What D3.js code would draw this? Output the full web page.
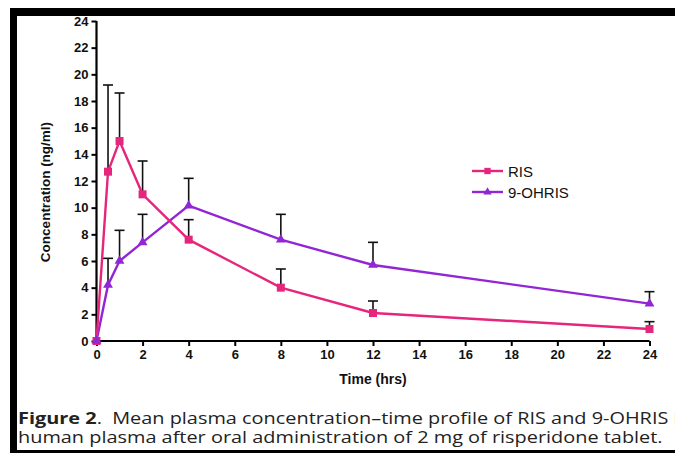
<!DOCTYPE html>
<html><head><meta charset="utf-8">
<script src="https://cdn.jsdelivr.net/npm/d3@7"></script>
<style>body{margin:0;background:#fff;} svg{display:block;}</style>
</head><body>
<script>
const times = [0, 0.5, 1, 2, 4, 8, 12, 24];
const risMean = [0, 12.7, 15.0, 11.0, 7.6, 4.0, 2.1, 0.9];
const risUpper = [0, 19.2, 18.6, 13.5, 9.1, 5.4, 3.0, 1.45];
const ohMean = [0, 4.2, 6.0, 7.4, 10.15, 7.6, 5.7, 2.8];
const ohUpper = [0, 6.2, 8.3, 9.5, 12.2, 9.5, 7.4, 3.7];
const xTicks = [0,2,4,6,8,10,12,14,16,18,20,22,24];
const yTicks = [0,2,4,6,8,10,12,14,16,18,20,22,24];
const seriesNames = ["RIS", "9-OHRIS"];
const colors = ["#e5267c", "#9226d4"];

const W = 675, H = 453;
const svg = d3.select("body").append("svg").attr("width", W).attr("height", H);
svg.append("rect").attr("width", W).attr("height", H).attr("fill", "#fff");

const x = d3.scaleLinear().domain([0, 24]).range([96.5, 649.5]);
const y = d3.scaleLinear().domain([0, 24]).range([341, 21]);

const font = "Liberation Sans, Arial, sans-serif";
const xAxis = svg.append("g").attr("transform", `translate(0,${y(0)})`)
  .call(d3.axisBottom(x).tickValues(xTicks).tickSize(5).tickPadding(4).tickFormat(d3.format("d")));
const yAxis = svg.append("g").attr("transform", `translate(${x(0)},0)`)
  .call(d3.axisLeft(y).tickValues(yTicks).tickSize(5).tickPadding(3).tickFormat(d3.format("d")));
[xAxis, yAxis].forEach(g => {
  g.select(".domain").attr("stroke", "#000").attr("stroke-width", 2.2);
  g.selectAll(".tick line").attr("stroke", "#000").attr("stroke-width", 2);
  g.selectAll(".tick text").attr("fill", "#111").attr("font-family", font)
    .attr("font-weight", "bold").attr("font-size", 13);
});
xAxis.select(".domain").attr("d", `M${x(0)},0H${x(24)}`);
yAxis.select(".domain").attr("d", `M0,${y(0)}V${y(24)}`);

svg.append("text").attr("x", 373).attr("y", 384).attr("text-anchor", "middle")
  .attr("font-family", font).attr("font-weight", "bold").attr("font-size", 14).attr("fill", "#111")
  .text("Time (hrs)");
svg.append("text").attr("transform", `translate(50,${192}) rotate(-90)`).attr("text-anchor", "middle")
  .attr("font-family", font).attr("font-weight", "bold").attr("font-size", 13.5).attr("fill", "#111")
  .text("Concentration (ng/ml)");

const data = [
  times.map((t, i) => ({t, m: risMean[i], u: risUpper[i]})),
  times.map((t, i) => ({t, m: ohMean[i], u: ohUpper[i]}))
];

data.forEach(ser => {
  const g = svg.append("g");
  ser.filter(d => d.u > d.m).forEach(d => {
    g.append("line").attr("x1", x(d.t)).attr("x2", x(d.t)).attr("y1", y(d.m)).attr("y2", y(d.u))
      .attr("stroke", "#111").attr("stroke-width", 1.6);
    g.append("line").attr("x1", x(d.t) - 5).attr("x2", x(d.t) + 5).attr("y1", y(d.u)).attr("y2", y(d.u))
      .attr("stroke", "#111").attr("stroke-width", 1.6);
  });
});

const line = d3.line().x(d => x(d.t)).y(d => y(d.m));
[1, 0].forEach(k => {
  svg.append("path").datum(data[k]).attr("d", line).attr("fill", "none")
    .attr("stroke", colors[k]).attr("stroke-width", 2.4);
});
const sq = d3.symbol().type(d3.symbolSquare).size(64);
const tri = d3.symbol().type(d3.symbolTriangle).size(42);
data[0].forEach(d => {
  svg.append("path").attr("d", sq()).attr("transform", `translate(${x(d.t)},${y(d.m)})`).attr("fill", colors[0]);
});
data[1].forEach(d => {
  svg.append("path").attr("d", tri()).attr("transform", `translate(${x(d.t)},${y(d.m)})`).attr("fill", colors[1]);
});

const lg = svg.append("g");
[0, 1].forEach(k => {
  const yy = 171 + k * 21;
  lg.append("line").attr("x1", 472).attr("x2", 503).attr("y1", yy).attr("y2", yy)
    .attr("stroke", colors[k]).attr("stroke-width", 2.4);
  lg.append("path").attr("d", (k === 0 ? d3.symbol().type(d3.symbolSquare).size(40) : d3.symbol().type(d3.symbolTriangle).size(30))())
    .attr("transform", `translate(487.5,${yy})`).attr("fill", colors[k]);
  lg.append("text").attr("x", 508).attr("y", yy + 5.5).attr("font-family", font).attr("font-size", 15)
    .attr("fill", "#111").text(seriesNames[k]);
});

// caption
const cf = "Open Sans, Noto Sans, sans-serif";
const capG = svg.append("g");
const cap = capG.append("text").attr("x", 0).attr("y", 424).attr("font-family", cf).attr("font-size", 15.5)
  .attr("fill", "#222").style("white-space", "pre");
cap.append("tspan").attr("font-weight", "bold").text("Figure 2");
cap.append("tspan").text(".  Mean plasma concentration–time profile of RIS and 9-OHRIS in");
const cap2 = capG.append("text").attr("x", 0).attr("y", 443).attr("font-family", cf).attr("font-size", 15.5)
  .attr("fill", "#222").text("human plasma after oral administration of 2 mg of risperidone tablet.");
const sx = 645 / cap2.node().getComputedTextLength();
capG.attr("transform", `translate(18,0) scale(${sx},1)`);

// frame
svg.append("rect").attr("x", 10).attr("y", 8).attr("width", W - 10).attr("height", 8).attr("fill", "#000");
svg.append("rect").attr("x", 10).attr("y", 8).attr("width", 7).attr("height", H - 8).attr("fill", "#000");
svg.append("rect").attr("x", 10).attr("y", 450).attr("width", W - 10).attr("height", 3).attr("fill", "#000");
</script>
</body></html>
